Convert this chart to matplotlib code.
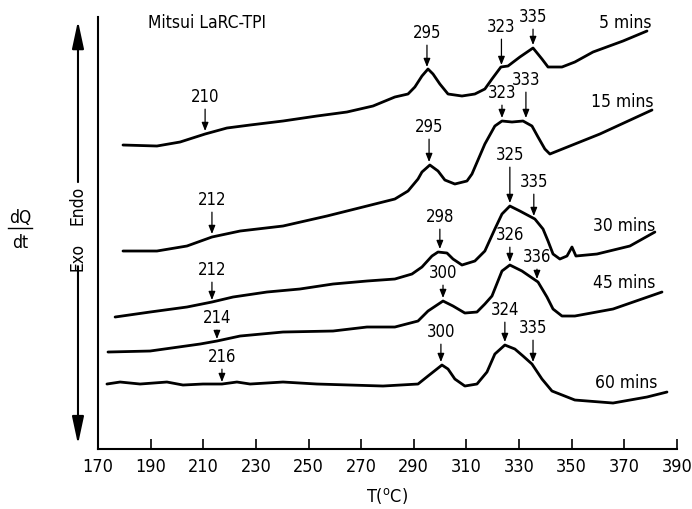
import matplotlib
matplotlib.use("Agg")
import matplotlib.pyplot as plt

plt.rcParams['font.family'] = ['DejaVu Sans']
plt.rcParams['font.stretch'] = 'condensed'
plt.rcParams['mathtext.fontset'] = 'dejavusans'

# DSC traces (T in degC, dQ/dt in arbitrary offset units)
t_5 = [179.5, 192.4, 201.2, 210.7, 219.0, 227.8, 240.3, 253.2, 264.6, 274.5, 282.8, 287.8,
       290.4, 293.1, 295.4, 297.3, 299.9, 303.0, 308.3, 313.2, 317.0, 319.7, 323.1, 325.8,
       330.3, 335.3, 338.7, 341.0, 346.3, 351.2, 358.1, 369.5, 378.6]
q_5 = [304, 303, 307, 315, 321, 324, 328, 333, 337, 343, 352, 355,
       362, 373, 380, 375, 365, 355, 353, 355, 360, 370, 382, 383,
       392, 401, 390, 382, 382, 387, 397, 408, 418]

t_15 = [179.5, 192.4, 203.8, 213.3, 224.0, 240.3, 257.0, 272.2, 282.8, 287.8, 291.6, 293.1,
        296.1, 299.2, 301.8, 305.6, 310.2, 312.1, 317.0, 320.8, 323.5, 327.3, 331.5, 334.9,
        337.2, 339.8, 341.7, 351.2, 360.7, 380.5]
q_15 = [198, 198, 203, 212, 218, 223, 233, 243, 250, 258, 270, 277,
        284, 278, 269, 265, 268, 275, 305, 323, 328, 327, 328, 323,
        312, 300, 295, 305, 315, 339]

t_30 = [176.5, 189.8, 203.8, 213.3, 221.3, 234.2, 246.7, 259.3, 272.2, 282.8, 289.3, 293.1,
        296.9, 299.2, 302.6, 304.9, 308.3, 313.2, 317.0, 320.8, 323.5, 326.5, 330.3, 336.0,
        339.1, 341.0, 342.9, 345.5, 348.2, 350.1, 351.6, 359.6, 372.1, 381.6]
q_30 = [132, 137, 142, 147, 152, 157, 160, 165, 168, 170, 175, 182,
        193, 197, 196, 190, 184, 188, 198, 220, 235, 243, 238, 230,
        220, 208, 195, 190, 193, 202, 193, 195, 203, 217]

t_45 = [173.8, 189.8, 208.8, 215.2, 224.0, 240.3, 259.3, 272.2, 282.8, 291.6, 295.4, 301.1,
        304.9, 309.4, 314.0, 317.0, 319.7, 323.5, 326.5, 331.1, 337.2, 340.6, 342.9, 346.3,
        351.2, 365.7, 384.3]
q_45 = [97, 98, 105, 108, 113, 117, 118, 122, 122, 128, 138, 148,
        143, 136, 137, 145, 153, 178, 184, 178, 167, 152, 140, 133,
        133, 140, 157]

t_60 = [173.4, 178.4, 186.0, 196.2, 202.3, 209.9, 217.1, 222.8, 227.8, 240.3, 253.2, 265.7,
        278.3, 291.6, 295.4, 300.7, 303.0, 305.6, 309.4, 314.0, 317.8, 320.8, 324.6, 328.4,
        331.5, 334.9, 338.7, 342.5, 351.2, 365.7, 378.6, 386.2]
q_60 = [65, 67, 65, 67, 64, 65, 65, 67, 65, 67, 65, 64,
        63, 65, 73, 84, 80, 70, 63, 65, 77, 95, 104, 100,
        93, 85, 70, 58, 49, 46, 52, 57]

# peak labels: (text, arrow T, label height, arrow tip height)
peaks_5 = [("210", 210.7, 353, 318), ("295", 295.0, 417, 382),
           ("323", 323.3, 423, 384), ("335", 335.3, 433, 404)]
peaks_15 = [("212", 213.3, 250, 215), ("295", 295.8, 323, 287),
            ("323", 323.5, 357, 331), ("333", 332.6, 370, 331)]
peaks_30 = [("212", 213.3, 180, 149), ("298", 299.9, 233, 200),
            ("325", 326.5, 295, 246), ("335", 335.6, 268, 233)]
peaks_45 = [("214", 215.2, 132, 110), ("300", 301.1, 177, 151),
            ("326", 326.5, 215, 187), ("336", 336.8, 193, 170)]
peaks_60 = [("216", 217.1, 93, 67), ("300", 300.3, 118, 87),
            ("324", 324.6, 140, 107), ("335", 335.3, 122, 87)]

run_labels = ["5 mins", "15 mins", "30 mins", "45 mins", "60 mins"]
run_label_t = [380.5, 380.9, 381.6, 381.6, 382.4]
run_label_q = [427, 348, 224, 167, 67]

fig = plt.figure(figsize=(6.92, 5.1), dpi=100)
ax = fig.add_axes([0.1416, 0.1176, 0.8367, 0.8471])

curves = [(t_5, q_5, peaks_5), (t_15, q_15, peaks_15), (t_30, q_30, peaks_30),
          (t_45, q_45, peaks_45), (t_60, q_60, peaks_60)]
for t, q, peaks in curves:
    ax.plot(t, q, color='black', lw=2.0, solid_capstyle='round', solid_joinstyle='round')
    for txt, tx, ty, tip in peaks:
        ax.annotate(txt, xy=(tx, tip), xytext=(tx, ty), ha='center', va='center',
                    fontsize=12, annotation_clip=False,
                    arrowprops=dict(arrowstyle='-|>,head_length=0.5,head_width=0.2',
                                    color='black', lw=0.9, shrinkA=1, shrinkB=0,
                                    mutation_scale=10))

for lab, lt, lq in zip(run_labels, run_label_t, run_label_q):
    ax.text(lt, lq, lab, ha='right', va='center', fontsize=12.5)

ax.text(189.0, 427, "Mitsui LaRC-TPI", ha='left', va='center', fontsize=12.5)

ax.set_xlim(170, 390)
ax.set_ylim(0, 432)
ax.set_xticks(range(170, 391, 20))
ax.set_yticks([])
ax.spines['top'].set_visible(False)
ax.spines['right'].set_visible(False)
ax.spines['left'].set_linewidth(1.5)
ax.spines['bottom'].set_linewidth(1.5)
ax.tick_params(axis='x', direction='in', length=7, width=1.2, pad=6, labelsize=13)
ax.set_xlabel(r"T($^{\mathrm{o}}$C)", fontsize=13, labelpad=7)

# Endo / Exo arrow and dQ/dt at the left
arrow_style = dict(arrowstyle='-|>,head_length=1.4,head_width=0.3', color='black',
                   lw=1.5, shrinkA=0, shrinkB=0, mutation_scale=12)
ax.annotate("", xy=(0.1127, 0.957), xytext=(0.1127, 0.641), xycoords='figure fraction',
            textcoords='figure fraction', arrowprops=arrow_style)
ax.annotate("", xy=(0.1127, 0.127), xytext=(0.1127, 0.476), xycoords='figure fraction',
            textcoords='figure fraction', arrowprops=arrow_style)
fig.text(0.1127, 0.598, "Endo", rotation=90, ha='center', va='center', fontsize=12.5)
fig.text(0.1127, 0.496, "Exo", rotation=90, ha='center', va='center', fontsize=12.5)
fig.text(0.0289, 0.5725, "dQ", ha='center', va='center', fontsize=12.5)
fig.text(0.0289, 0.5235, "dt", ha='center', va='center', fontsize=12.5)
fig.add_artist(plt.Line2D([0.0116, 0.0462], [0.551, 0.551], color='black', lw=1.0,
                          transform=fig.transFigure))

fig.savefig("out.png", dpi=100)
